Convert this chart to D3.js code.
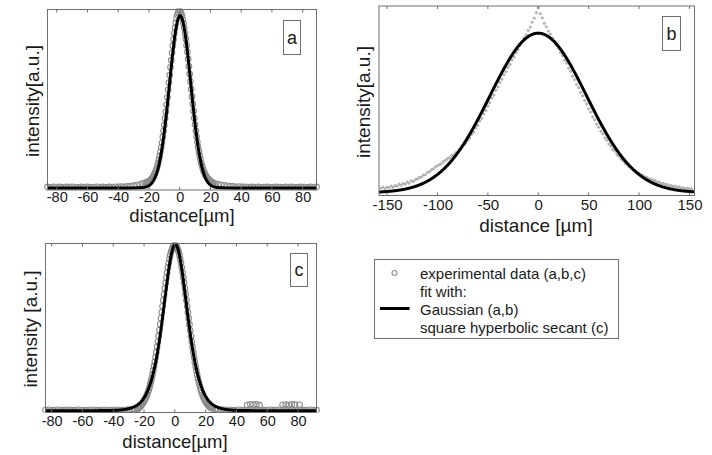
<!DOCTYPE html>
<html>
<head>
<meta charset="utf-8">
<script src="https://cdn.jsdelivr.net/npm/d3@7"></script>
<style>
  html, body { margin: 0; padding: 0; background: #fff; }
  svg text { font-family: "Liberation Sans", Arial, sans-serif; fill: #1a1a1a; }
</style>
</head>
<body>
<svg id="fig" width="712" height="455"></svg>
<script>
// ---------- panel (a): measured profile, sampled on a regular grid ----------
const aCoreStart = -22, aCoreStep = 0.5;
const aCoreY = [
  .030, .034, .028, .036, .040, .038, .045, .050, .055, .062, .068, .080, .088, .100, .112, .128,
  .145, .165, .186, .210, .236, .262, .296, .330, .366, .404, .442, .484, .526, .570, .612, .655,
  .700, .742, .785, .826, .862, .898, .930, .958, .985, 1.005, 1.020, 1.030,
  1.028,
  1.022, 1.012, .998, .978, .955, .928, .898, .865, .828, .790, .748, .706, .662, .618, .574, .530,
  .488, .446, .406, .368, .332, .298, .266, .238, .212, .188, .166, .146, .130, .114, .100, .090,
  .080, .072, .064, .058, .052, .047, .043, .040, .036, .032, .030, .027
];
const aLeftStart = -86, aLeftStep = 2;
const aLeftY = [
  .006, .004, .007, .005, .006, .004, .006, .005, .007, .005, .004, .006, .005, .006, .004, .005,
  .007, .005, .006, .004, .006, .005, .007, .006, .008, .007, .009, .011, .013, .017, .020, .026
];
const aRightStart = 23, aRightStep = 2;
const aRightY = [
  .025, .021, .018, .015, .012, .010, .009, .007, .008, .006, .007, .005, .006, .005, .006, .004,
  .005, .006, .004, .005, .006, .005, .004, .006, .005, .006, .004, .005, .006, .005, .004, .006,
  .005, .006
];
// Gaussian fit of (a)
const fitA = { amp: 1.0, mu: 0.3, sigma: 6.9 };

// ---------- panel (b) ----------
const bStart = -156, bStep = 2;
const bY = [
  .024, .031, .020, .030, .027, .036, .029, .038, .036, .047, .040, .050, .046, .058, .051, .064,
  .060, .071, .074, .082, .085, .096, .097, .110, .113, .124, .129, .140, .146, .152, .158, .168,
  .175, .184, .189, .200, .204, .216, .221, .234, .242, .258, .266, .284, .296, .316, .328, .350,
  .364, .388, .402, .426, .444, .468, .486, .512, .528, .554, .572, .596, .614, .638, .654, .678,
  .694, .718, .734, .758, .774, .798, .814, .838, .854, .878, .896, .922, .944, .974,
  1.000,
  .968, .946, .916, .898, .874, .858, .836, .820, .798, .782, .758, .742, .716, .700, .674, .656,
  .630, .612, .586, .568, .542, .524, .498, .480, .454, .436, .410, .394, .370, .354, .332, .318,
  .296, .284, .264, .252, .234, .224, .206, .198, .182, .174, .160, .154, .140, .136, .124, .120,
  .108, .106, .096, .094, .084, .082, .074, .073, .066, .065, .058, .057, .050, .050, .044, .044,
  .038, .039, .033, .035, .029, .031, .025, .027, .022, .024, .019, .020
];
const fitB = { amp: 0.863, mu: 0, sigma: 48 };

// ---------- panel (c) ----------
const cCoreStart = -24, cCoreStep = 0.5;
const cCoreY = [
  .012, .016, .020, .024, .030, .036, .042, .049, .057, .066, .075, .086, .097, .110, .124, .140,
  .158, .176, .196, .218, .242, .268, .294, .322, .352, .384, .416, .450, .485, .520, .556, .592,
  .628, .664, .700, .735, .768, .800, .832, .862, .888, .912, .934, .953, .968, .980, .990, .996,
  1.000,
  .997, .991, .982, .970, .955, .936, .914, .890, .863, .833, .802, .770, .736, .701, .665, .628,
  .591, .555, .519, .483, .448, .415, .382, .351, .321, .293, .266, .241, .217, .195, .174, .156,
  .138, .122, .108, .095, .083, .072, .063, .054, .047, .040, .035, .029, .025, .021, .018, .015
];
const cLeftStart = -84, cLeftStep = 2;
const cLeftY = [
  .004, .005, .003, .004, .005, .004, .003, .005, .004, .003, .004, .005, .004, .003, .004, .005,
  .004, .003, .004, .005, .004, .003, .004, .005, .004, .003, .005, .006, .008, .010
];
const cRightStart = 26, cRightStep = 2;
const cRightY = [
  .010, .008, .006, .005, .004, .005, .003, .004, .005, .003, .004, .005, .004, .003, .005, .004,
  .003, .004, .005, .003, .004, .005, .004, .003, .004, .005, .003, .004, .005, .003, .004, .005,
  .004, .003
];
const cRaisedX = [47, 49, 51, 53, 55, 70, 72, 74, 76, 78, 81];
const cRaisedY = [.034, .038, .036, .038, .033, .035, .037, .034, .038, .036, .035];
// square hyperbolic secant fit of (c)
const fitC = { amp: 1.0, mu: 0.3, width: 10.4 };

// axis ticks and labels
const ticksAC = [-80, -60, -40, -20, 0, 20, 40, 60, 80];
const ticksB = [-150, -100, -50, 0, 50, 100, 150];
const legendLines = [
  "experimental data (a,b,c)",
  "fit with:",
  "Gaussian (a,b)",
  "square hyperbolic secant (c)"
];

// ---------- helpers ----------
function grid(start, step, ys) {
  return ys.map((y, i) => ({ x: start + i * step, y }));
}
const gauss = p => x => p.amp * Math.exp(-((x - p.mu) ** 2) / (2 * p.sigma ** 2));
const sech2 = p => x => { const c = Math.cosh((x - p.mu) / p.width); return p.amp / (c * c); };

const svg = d3.select("#fig");
svg.append("rect").attr("width", 712).attr("height", 455).attr("fill", "#fff");

const FRAME = "#6e6e6e";

function panel(cfg) {
  const x = d3.scaleLinear().domain(cfg.xDomain).range([cfg.left, cfg.right]);
  const y = d3.scaleLinear().domain(cfg.yDomain).range([cfg.bottom, cfg.top]);
  const g = svg.append("g");
  const clipId = "clip-" + cfg.name;
  svg.append("clipPath").attr("id", clipId).append("rect")
    .attr("x", cfg.left - 4).attr("y", cfg.top - 1)
    .attr("width", cfg.right - cfg.left + 8).attr("height", cfg.bottom - cfg.top + 1);

  const plot = g.append("g").attr("clip-path", `url(#${clipId})`);

  // experimental points
  plot.append("g").selectAll("circle").data(cfg.points).join("circle")
    .attr("cx", d => x(d.x)).attr("cy", d => y(d.y))
    .attr("r", cfg.pointR)
    .attr("fill", cfg.pointFill)
    .attr("stroke", cfg.pointColor)
    .attr("stroke-width", cfg.pointStroke);

  // fit curve
  const xs = d3.range(cfg.xDomain[0], cfg.xDomain[1] + 0.001, 0.25);
  const line = d3.line().x(d => x(d)).y(d => y(cfg.fit(d)));
  plot.append("path").datum(xs).attr("d", line)
    .attr("fill", "none").attr("stroke", "#000").attr("stroke-width", 3)
    .attr("stroke-linejoin", "round");

  // frame
  g.append("rect")
    .attr("x", cfg.left).attr("y", cfg.top)
    .attr("width", cfg.right - cfg.left).attr("height", cfg.bottom - cfg.top)
    .attr("fill", "none").attr("stroke", FRAME).attr("stroke-width", 1);

  // bottom axis with tick labels, plus inward ticks on top and bottom
  const axisB = d3.axisBottom(x).tickValues(cfg.ticks).tickSize(0).tickPadding(cfg.tickPad)
    .tickFormat(d => String(d));
  const ax = g.append("g").attr("transform", `translate(0,${cfg.bottom})`).call(axisB);
  ax.select(".domain").remove();
  ax.selectAll("text").attr("font-size", cfg.tickFont).attr("fill", "#1a1a1a")
    .style("font-family", '"Liberation Sans", Arial, sans-serif');
  g.append("g").selectAll("line").data(cfg.ticks).join("line")
    .attr("x1", d => x(d)).attr("x2", d => x(d))
    .attr("y1", cfg.bottom).attr("y2", cfg.bottom - 3)
    .attr("stroke", FRAME);
  g.append("g").selectAll("line").data(cfg.ticks).join("line")
    .attr("x1", d => x(d)).attr("x2", d => x(d))
    .attr("y1", cfg.top).attr("y2", cfg.top + 3)
    .attr("stroke", FRAME);

  // axis titles
  g.append("text").attr("x", cfg.xTitleX).attr("y", cfg.xTitleY)
    .attr("text-anchor", "middle").attr("font-size", cfg.titleFont).text(cfg.xTitle);
  g.append("text")
    .attr("transform", `translate(${cfg.yTitleX},${cfg.yTitleY}) rotate(-90)`)
    .attr("text-anchor", "middle").attr("font-size", 19).text(cfg.yTitle);

  // panel letter
  g.append("rect").attr("x", cfg.tag[0]).attr("y", cfg.tag[1])
    .attr("width", cfg.tag[2]).attr("height", cfg.tag[3])
    .attr("fill", "#fff").attr("stroke", FRAME).attr("stroke-width", 1);
  g.append("text").attr("x", cfg.tag[0] + cfg.tag[2] / 2).attr("y", cfg.tag[1] + cfg.tag[3] / 2 + 6)
    .attr("text-anchor", "middle").attr("font-size", 18).text(cfg.name);
}

const pointsA = [
  ...grid(aLeftStart, aLeftStep, aLeftY),
  ...grid(aCoreStart, aCoreStep, aCoreY),
  ...grid(aRightStart, aRightStep, aRightY)
];
const pointsB = grid(bStart, bStep, bY);
const pointsC = [
  ...grid(cLeftStart, cLeftStep, cLeftY),
  ...grid(cCoreStart, cCoreStep, cCoreY),
  ...grid(cRightStart, cRightStep, cRightY),
  ...cRaisedX.map((v, i) => ({ x: v, y: cRaisedY[i] }))
];

panel({
  name: "a", xDomain: [-86, 89], yDomain: [-0.012, 1.036],
  left: 47.5, right: 316.5, top: 9.5, bottom: 190,
  points: pointsA, pointR: 2.8, pointStroke: 1.1, pointColor: "#8c8c8c", pointFill: "none",
  fit: gauss(fitA), ticks: ticksAC, tickPad: 2, tickFont: 14.5, titleFont: 18.5,
  xTitle: "distance[\u00b5m]", xTitleX: 182, xTitleY: 222,
  yTitle: "intensity[a.u.]", yTitleX: 39, yTitleY: 101,
  tag: [283.5, 20.5, 17, 34]
});

panel({
  name: "b", xDomain: [-158, 155], yDomain: [-0.015, 1.01],
  left: 379, right: 694.5, top: 6, bottom: 195.5,
  points: pointsB, pointR: 1.1, pointStroke: 0.8, pointColor: "#a0a0a0", pointFill: "#c4c4c4",
  fit: gauss(fitB), ticks: ticksB, tickPad: 4, tickFont: 15, titleFont: 19,
  xTitle: "distance [\u00b5m]", xTitleX: 536, xTitleY: 232,
  yTitle: "intensity[a.u.]", yTitleX: 370, yTitleY: 102,
  tag: [662.5, 16.5, 18, 34]
});

panel({
  name: "c", xDomain: [-84, 92], yDomain: [-0.011, 1.006],
  left: 45.5, right: 316.5, top: 243.5, bottom: 412.5,
  points: pointsC, pointR: 2.8, pointStroke: 1.1, pointColor: "#8c8c8c", pointFill: "none",
  fit: sech2(fitC), ticks: ticksAC, tickPad: 3, tickFont: 14.5, titleFont: 18.5,
  xTitle: "distance[\u00b5m]", xTitleX: 175, xTitleY: 448,
  yTitle: "intensity [a.u.]", yTitleX: 37, yTitleY: 329,
  tag: [290.5, 253.5, 17, 33]
});

// ---------- legend ----------
const lg = svg.append("g");
lg.append("rect").attr("x", 374.5).attr("y", 259.5).attr("width", 244).attr("height", 79)
  .attr("fill", "#fff").attr("stroke", FRAME).attr("stroke-width", 1);
const lineY = [273, 291.5, 309, 327];
lg.selectAll("text").data(legendLines).join("text")
  .attr("x", 420).attr("y", (d, i) => lineY[i] + 5.5)
  .attr("font-size", 15).text(d => d);
lg.append("circle").attr("cx", 394.5).attr("cy", 273).attr("r", 2.5)
  .attr("fill", "none").attr("stroke", "#8c8c8c").attr("stroke-width", 1.1);
lg.append("line").attr("x1", 380).attr("x2", 409.5).attr("y1", 308.5).attr("y2", 308.5)
  .attr("stroke", "#000").attr("stroke-width", 3);
</script>
</body>
</html>
